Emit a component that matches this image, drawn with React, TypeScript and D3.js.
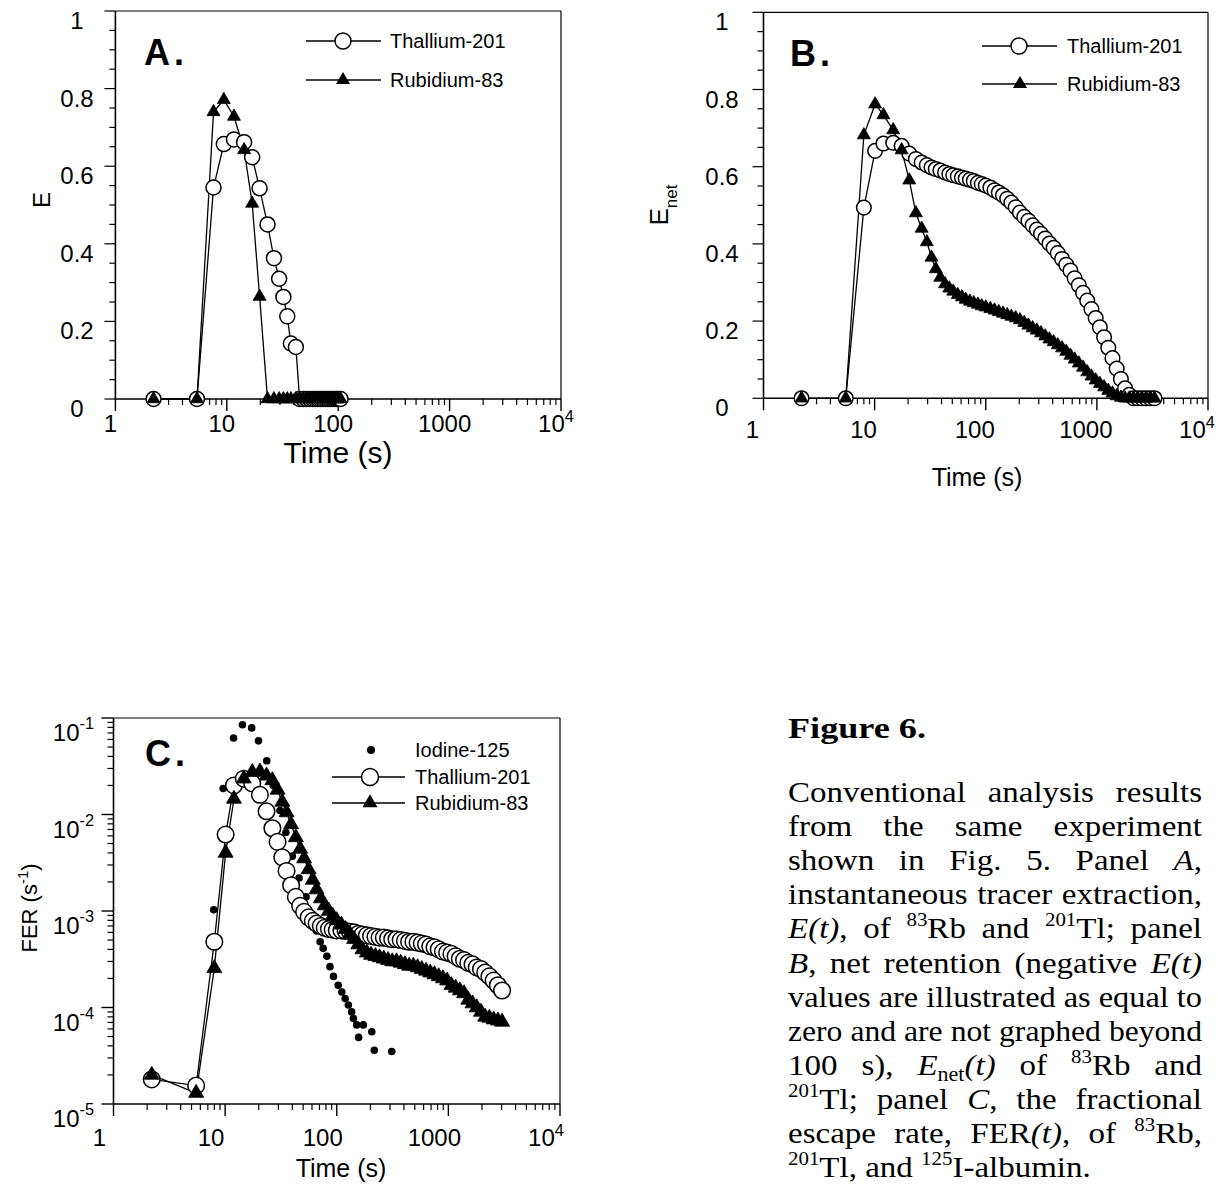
import React, { useMemo } from "react";
import * as d3 from "d3";

const SANS = "'Liberation Sans', Arial, Helvetica, sans-serif";
const SERIF = "'Liberation Serif', 'Times New Roman', serif";

// ---------------- Data ----------------
// Panel A : instantaneous extraction E(t)
const timeA = [2.2, 5.4, 7.6, 9.4, 11.6, 14.3, 16.9, 19.7, 23.2, 26.5, 29.5, 32.2, 34.9, 37.6, 41.7,
  45, 48.5, 52, 55.5, 59, 62.5, 66, 69.5, 73, 77, 81, 85, 89, 93, 97, 101, 105];
const thalliumA = [0, 0, 0.545, 0.657, 0.669, 0.662, 0.623, 0.543, 0.45, 0.363, 0.31, 0.263, 0.213, 0.143, 0.134,
  0, 0, 0, 0, 0, 0, 0, 0, 0, 0, 0, 0, 0, 0, 0, 0, 0];
const rubidiumA = [0, 0, 0.74, 0.771, 0.728, 0.642, 0.504, 0.264, 0, 0, 0, 0, 0, 0, 0,
  0, 0, 0, 0, 0, 0, 0, 0, 0, 0, 0, 0, 0, 0, 0, 0, 0];

// Panel B : net retention Enet(t)
const timeB = [2.2, 5.5, 8.0, 10.1, 12.0, 14.7, 17.5, 20.5, 23.5, 26.5, 29.5, 32.5, 35.5, 39, 43, 47, 51, 56, 61, 66,
  72, 78, 85, 92, 100, 110, 120, 131, 143, 156, 170, 186, 203, 222, 242, 264, 288, 314, 343, 374, 408, 445, 486,
  530, 578, 631, 688, 751, 819, 894, 975, 1064, 1161, 1267, 1382, 1508, 1645, 1795, 1958, 2137, 2331, 2543, 2775,
  3028, 3300];
const thalliumB = [0, 0, 0.494, 0.641, 0.66, 0.662, 0.654, 0.634, 0.62, 0.611, 0.604, 0.598, 0.594, 0.59, 0.585,
  0.581, 0.578, 0.575, 0.572, 0.569, 0.566, 0.563, 0.558, 0.555, 0.551, 0.546, 0.539, 0.533, 0.526, 0.517, 0.507,
  0.495, 0.481, 0.47, 0.46, 0.448, 0.437, 0.426, 0.414, 0.401, 0.39, 0.376, 0.361, 0.346, 0.331, 0.311, 0.293,
  0.273, 0.253, 0.231, 0.208, 0.184, 0.158, 0.131, 0.104, 0.077, 0.05, 0.026, 0.009, 0, 0, 0, 0, 0, 0];
const rubidiumB = [0, 0, 0.682, 0.762, 0.734, 0.695, 0.643, 0.565, 0.48, 0.44, 0.405, 0.365, 0.335, 0.313, 0.296,
  0.285, 0.277, 0.268, 0.262, 0.256, 0.251, 0.247, 0.243, 0.239, 0.236, 0.232, 0.228, 0.224, 0.22, 0.216, 0.212,
  0.208, 0.203, 0.196, 0.189, 0.182, 0.176, 0.169, 0.161, 0.153, 0.146, 0.138, 0.13, 0.121, 0.111, 0.101, 0.091,
  0.08, 0.068, 0.057, 0.047, 0.038, 0.029, 0.02, 0.013, 0.006, 0.002, 0, 0, 0, 0, 0, 0, 0, 0];

// Panel C : fractional escape rate FER(t)
const timeC = [2.2, 5.5, 8.0, 10.1, 12.0, 14.7, 17.5, 20.5, 23.5, 26.5, 29.5, 32.5, 35.5, 39, 43, 47, 51, 56, 61, 66,
  72, 78, 85, 92, 100, 110, 120, 131, 143, 156, 170, 186, 203, 222, 242, 264, 288, 314, 343, 374, 408, 445, 486,
  530, 578, 631, 688, 751, 819, 894, 975, 1064, 1161, 1267, 1382, 1508, 1645, 1795, 1958, 2137, 2331, 2543, 2775,
  3028];
const thalliumC = [1.8e-5, 1.55e-5, 4.8e-4, 6.2e-3, 0.02, 0.0235, 0.021, 0.016, 0.0108, 0.0072, 0.0052, 0.0036,
  0.0026, 0.00185, 0.0014, 0.00113, 0.00098, 0.00086, 0.00079, 0.00074, 0.0007, 0.00067, 0.00065, 0.00064,
  0.00063, 0.00063, 0.00062, 0.00061, 0.0006, 0.00058, 0.00057, 0.00056, 0.00055, 0.00054, 0.00053, 0.00053,
  0.00052, 0.00051, 0.00051, 0.0005, 0.00049, 0.00048, 0.00048, 0.00047, 0.00046, 0.00045, 0.00043, 0.00042,
  0.0004, 0.00038, 0.00037, 0.00036, 0.00034, 0.00032, 0.00031, 0.00029, 0.00028, 0.00026, 0.00025, 0.00023,
  0.00021, 0.00019, 0.00017, 0.00015];
const rubidiumC = [2.0e-5, 1.3e-5, 2.55e-4, 4.0e-3, 0.0145, 0.0235, 0.0275, 0.0278, 0.0252, 0.0226, 0.018, 0.0135,
  0.0105, 0.0079, 0.0058, 0.0044, 0.0035, 0.0027, 0.0021, 0.00167, 0.00135, 0.00114, 0.001, 0.00089, 0.0008,
  0.00072, 0.00065, 0.00058, 0.00051, 0.00045, 0.0004, 0.00037, 0.00035, 0.00034, 0.00033, 0.00032, 0.00031,
  0.0003, 0.0003, 0.00029, 0.00028, 0.00027, 0.00027, 0.00026, 0.00025, 0.00024, 0.00023, 0.00022, 0.00021,
  0.0002, 0.00019, 0.00017, 0.00016, 0.00015, 0.00014, 0.00012, 0.00011, 0.0001, 0.00009, 0.00008, 0.000078,
  0.000075, 0.000073, 0.000071];
const iodineTime = [7.9, 9.6, 11.9, 14.3, 17.3, 19.9, 23.6, 27, 31, 35, 40, 46, 53, 61, 66, 71, 75.5, 81.6, 87,
  93.5, 103, 111, 119, 127, 136, 141, 151, 157, 173, 206, 217, 311];
const iodineC = [0.00103, 0.0186, 0.062, 0.085, 0.079, 0.058, 0.036, 0.02, 0.011, 0.0065, 0.0037, 0.0022, 0.0014,
  0.00085, 0.00062, 0.00048, 0.00041, 0.00034, 0.000265, 0.00021, 0.00017, 0.000145, 0.000124, 0.000106, 0.00009,
  0.000077, 0.000066, 0.000049, 0.000066, 0.000056, 0.000036, 0.000035];

// Ticks / labels
const linTickValues = [0, 0.2, 0.4, 0.6, 0.8, 1];
const linTickLabels = ["0", "0.2", "0.4", "0.6", "0.8", "1"];
const timeTickValues = [1, 10, 100, 1000, 10000];
const timeTickBase = ["1", "10", "100", "1000", "10"];
const timeTickExp = ["", "", "", "", "4"];
const ferTickValues = [1e-5, 1e-4, 1e-3, 1e-2, 1e-1];
const ferTickExp = ["-5", "-4", "-3", "-2", "-1"];
const seriesNames = ["Thallium-201", "Rubidium-83", "Iodine-125"];

type Seg = [string, string];
const captionTitle = "Figure 6.";
const captionWords: Seg[][][] = [
  [[["Conventional", "n"]], [["analysis", "n"]], [["results", "n"]]],
  [[["from", "n"]], [["the", "n"]], [["same", "n"]], [["experiment", "n"]]],
  [[["shown", "n"]], [["in", "n"]], [["Fig.", "n"]], [["5.", "n"]], [["Panel", "n"]], [["A", "i"], [",", "n"]]],
  [[["instantaneous", "n"]], [["tracer", "n"]], [["extraction,", "n"]]],
  [[["E(t)", "i"], [",", "n"]], [["of", "n"]], [["83", "sp"], ["Rb", "n"]], [["and", "n"]], [["201", "sp"], ["Tl;", "n"]], [["panel", "n"]]],
  [[["B", "i"], [",", "n"]], [["net", "n"]], [["retention", "n"]], [["(negative", "n"]], [["E(t)", "i"]]],
  [[["values", "n"]], [["are", "n"]], [["illustrated", "n"]], [["as", "n"]], [["equal", "n"]], [["to", "n"]]],
  [[["zero", "n"]], [["and", "n"]], [["are", "n"]], [["not", "n"]], [["graphed", "n"]], [["beyond", "n"]]],
  [[["100", "n"]], [["s),", "n"]], [["E", "i"], ["net", "sb"], ["(t)", "i"]], [["of", "n"]], [["83", "sp"], ["Rb", "n"]], [["and", "n"]]],
  [[["201", "sp"], ["Tl;", "n"]], [["panel", "n"]], [["C", "i"], [",", "n"]], [["the", "n"]], [["fractional", "n"]]],
  [[["escape", "n"]], [["rate,", "n"]], [["FER", "n"], ["(t)", "i"], [",", "n"]], [["of", "n"]], [["83", "sp"], ["Rb,", "n"]]],
  [[["201", "sp"], ["Tl,", "n"]], [["and", "n"]], [["125", "sp"], ["I-albumin.", "n"]]],
];

// ---------------- helpers ----------------
function tri(cx: number, cy: number, s: number) {
  const h = s * 0.866;
  return `M${cx},${cy - (2 * h) / 3}L${cx + s / 2},${cy + h / 3}L${cx - s / 2},${cy + h / 3}Z`;
}

function frame(x0: number, x1: number, y0: number, y1: number, key: string) {
  return (
    <g key={key} stroke="#000" fill="none">
      <line x1={x0} x2={x1} y1={y1} y2={y1} strokeWidth={1.2} />
      <line x1={x1} x2={x1} y1={y1} y2={y0} strokeWidth={1.2} />
      <line x1={x0} x2={x1} y1={y0} y2={y0} strokeWidth={1.6} />
      <line x1={x0} x2={x0} y1={y1} y2={y0} strokeWidth={1.6} />
    </g>
  );
}

function logXAxis(x: any, y0: number, labelDx: number, labelBase: number, fs: number, key: string) {
  const els: any[] = [];
  for (let d = 0; d < 4; d++) {
    for (let m = 2; m <= 9; m++) {
      const v = m * Math.pow(10, d);
      els.push(<line key={key + "m" + v} x1={x(v)} x2={x(v)} y1={y0} y2={y0 + 6} stroke="#000" strokeWidth={1.2} />);
    }
  }
  timeTickValues.forEach((v, i) => {
    els.push(<line key={key + "M" + v} x1={x(v)} x2={x(v)} y1={y0} y2={y0 + 12} stroke="#000" strokeWidth={1.4} />);
    els.push(
      <text key={key + "L" + v} x={x(v) + labelDx} y={labelBase} textAnchor="middle" fontSize={fs} fontFamily={SANS}>
        {timeTickBase[i]}
        {timeTickExp[i] ? <tspan dy={-10} fontSize={fs * 0.68}>{timeTickExp[i]}</tspan> : null}
      </text>
    );
  });
  return <g key={key}>{els}</g>;
}

function linYAxis(y: any, x0: number, labelCx: number, fs: number, key: string) {
  const els: any[] = [];
  for (let k = 0; k <= 20; k++) {
    const v = k * 0.05;
    const major = k % 4 === 0;
    els.push(<line key={key + "t" + k} x1={x0} x2={x0 - (major ? 11 : 6)} y1={y(v)} y2={y(v)} stroke="#000" strokeWidth={1.2} />);
  }
  linTickValues.forEach((v, i) => {
    els.push(
      <text key={key + "L" + i} x={labelCx} y={y(v) + 18} textAnchor="middle" fontSize={fs} fontFamily={SANS}>
        {linTickLabels[i]}
      </text>
    );
  });
  return <g key={key}>{els}</g>;
}

function logYAxis(y: any, x0: number, labelRight: number, fs: number, key: string) {
  const els: any[] = [];
  for (let d = -5; d < -1; d++) {
    for (let m = 2; m <= 9; m++) {
      const v = m * Math.pow(10, d);
      els.push(<line key={key + "m" + v} x1={x0} x2={x0 - 6} y1={y(v)} y2={y(v)} stroke="#000" strokeWidth={1.2} />);
    }
  }
  ferTickValues.forEach((v, i) => {
    els.push(<line key={key + "M" + i} x1={x0} x2={x0 - 12} y1={y(v)} y2={y(v)} stroke="#000" strokeWidth={1.4} />);
    els.push(
      <text key={key + "L" + i} x={labelRight} y={y(v) + 23} textAnchor="end" fontSize={fs} fontFamily={SANS}>
        10
        <tspan dy={-12} fontSize={fs * 0.68}>{ferTickExp[i]}</tspan>
      </text>
    );
  });
  return <g key={key}>{els}</g>;
}

function seriesLine(xs: number[], ys: number[], x: any, y: any, key: string) {
  const pts: [number, number][] = xs.map((t, i) => [x(t), y(ys[i])]);
  const gen = d3.line<[number, number]>().x((d) => d[0]).y((d) => d[1]);
  return <path key={key} d={gen(pts) || ""} fill="none" stroke="#000" strokeWidth={1.3} />;
}

function circles(xs: number[], ys: number[], x: any, y: any, r: number, key: string) {
  return (
    <g key={key}>
      {xs.map((t, i) => (
        <circle key={i} cx={x(t)} cy={y(ys[i])} r={r} fill="#fff" stroke="#000" strokeWidth={1.5} />
      ))}
    </g>
  );
}

function triangles(xs: number[], ys: number[], x: any, y: any, s: number, key: string) {
  return (
    <g key={key}>
      {xs.map((t, i) => (
        <path key={i} d={tri(x(t), y(ys[i]), s)} fill="#000" stroke="#000" strokeWidth={0.8} />
      ))}
    </g>
  );
}

// ---------------- caption layout ----------------
const STRETCH = 1.1;
function useCaption() {
  return useMemo(() => {
    const canvas = document.createElement("canvas");
    const ctx = canvas.getContext("2d") as CanvasRenderingContext2D;
    const size = 30;
    const fontOf = (st: string) =>
      st === "i" ? `italic ${size}px 'Liberation Serif'` : st === "sp" ? `19px 'Liberation Serif'` : st === "sb" ? `20px 'Liberation Serif'` : `${size}px 'Liberation Serif'`;
    const meas = (t: string, st: string) => {
      ctx.font = fontOf(st);
      return ctx.measureText(t).width * STRETCH;
    };
    const left = 788;
    const right = 1202;
    const base0 = 802;
    const lead = 34.1;
    const minGap = 8;
    const out: any[] = [];
    captionWords.forEach((words, li) => {
      let widths = words.map((w) => w.reduce((s, seg) => s + meas(seg[0], seg[1]), 0));
      let total = widths.reduce((a, b) => a + b, 0);
      const last = li === captionWords.length - 1;
      const avail = right - left - minGap * (words.length - 1);
      let f = 1;
      if (!last && total > avail) {
        f = avail / total;
        widths = widths.map((w) => w * f);
        total = avail;
      }
      const gap = last ? meas(" ", "n") : (right - left - total) / (words.length - 1);
      let cx = left;
      const base = base0 + li * lead;
      words.forEach((w, wi) => {
        let sx = cx;
        w.forEach((seg, si) => {
          const st = seg[1];
          const yy = st === "sp" ? base - 12 : st === "sb" ? base + 6 : base;
          const wd = meas(seg[0], st) * f;
          out.push({ key: `${li}-${wi}-${si}`, x: sx, y: yy, t: seg[0], st, w: wd });
          sx += wd;
        });
        cx += widths[wi] + gap;
      });
    });
    return out;
  }, []);
}

export default function App() {
  // Panel A scales
  const xA = d3.scaleLog().domain([1, 1e4]).range([115.4, 561]);
  const yA = d3.scaleLinear().domain([0, 1]).range([399, 11]);
  // Panel B scales
  const xB = d3.scaleLog().domain([1, 1e4]).range([763.5, 1208]);
  const yB = d3.scaleLinear().domain([0, 1]).range([398.3, 12.3]);
  // Panel C scales
  const xC = d3.scaleLog().domain([1, 1e4]).range([113.5, 560]);
  const yC = d3.scaleLog().domain([1e-5, 1e-1]).range([1104, 718]);

  const caption = useCaption();

  return (
    <svg
      width={1218}
      height={1184}
      viewBox="0 0 1218 1184"
      style={{ position: "absolute", left: 0, top: 0, background: "#fff" }}
      fontFamily={SANS}
    >
      <rect x={0} y={0} width={1218} height={1184} fill="#fff" />

      {/* ---------- Panel A ---------- */}
      {frame(xA(1), xA(1e4), yA(0), yA(1), "fa")}
      {linYAxis(yA, xA(1), 77, 24, "ya")}
      {logXAxis(xA, yA(0), -5, 432, 24, "xa")}
      <text x={338} y={463} textAnchor="middle" fontSize={30} fontFamily={SANS}>Time (s)</text>
      <text transform="translate(50,200) rotate(-90)" textAnchor="middle" fontSize={24} fontFamily={SANS}>E</text>
      <text x={144} y={65} fontSize={36} fontWeight="bold" fontFamily={SANS} letterSpacing={4}>A.</text>
      {seriesLine(timeA, thalliumA, xA, yA, "la1")}
      {seriesLine(timeA, rubidiumA, xA, yA, "la2")}
      {circles(timeA, thalliumA, xA, yA, 7.5, "ca")}
      {triangles(timeA, rubidiumA, xA, yA, 13, "ta")}
      <g>
        <line x1={306} x2={381} y1={41} y2={41} stroke="#000" strokeWidth={1.3} />
        <circle cx={343} cy={41} r={8} fill="#fff" stroke="#000" strokeWidth={1.5} />
        <text x={390} y={48} fontSize={20} fontFamily={SANS}>{seriesNames[0]}</text>
        <line x1={306} x2={381} y1={80} y2={80} stroke="#000" strokeWidth={1.3} />
        <path d={tri(343, 80, 14)} fill="#000" />
        <text x={390} y={87} fontSize={20} fontFamily={SANS}>{seriesNames[1]}</text>
      </g>

      {/* ---------- Panel B ---------- */}
      {frame(xB(1), xB(1e4), yB(0), yB(1), "fb")}
      {linYAxis(yB, xB(1), 722, 24, "yb")}
      {logXAxis(xB, yB(0), -11, 438, 24, "xb")}
      <text x={977} y={486} textAnchor="middle" fontSize={25} fontFamily={SANS}>Time (s)</text>
      <text transform="translate(668,205) rotate(-90)" textAnchor="middle" fontSize={26} fontFamily={SANS}>
        E<tspan dy={9} fontSize={17}>net</tspan>
      </text>
      <text x={790} y={66} fontSize={36} fontWeight="bold" fontFamily={SANS} letterSpacing={4}>B.</text>
      {seriesLine(timeB, thalliumB, xB, yB, "lb1")}
      {seriesLine(timeB, rubidiumB, xB, yB, "lb2")}
      {circles(timeB, thalliumB, xB, yB, 7.3, "cb")}
      {triangles(timeB, rubidiumB, xB, yB, 13, "tb")}
      <g>
        <line x1={982} x2={1057} y1={46} y2={46} stroke="#000" strokeWidth={1.3} />
        <circle cx={1019} cy={46} r={8} fill="#fff" stroke="#000" strokeWidth={1.5} />
        <text x={1067} y={53} fontSize={20} fontFamily={SANS}>{seriesNames[0]}</text>
        <line x1={982} x2={1057} y1={84} y2={84} stroke="#000" strokeWidth={1.3} />
        <path d={tri(1020, 84, 14)} fill="#000" />
        <text x={1067} y={91} fontSize={20} fontFamily={SANS}>{seriesNames[1]}</text>
      </g>

      {/* ---------- Panel C ---------- */}
      {frame(xC(1), xC(1e4), yC(1e-5), yC(1e-1), "fc")}
      {logYAxis(yC, xC(1), 94, 24, "yc")}
      {logXAxis(xC, yC(1e-5), -14, 1146, 24, "xc")}
      <text x={341} y={1177} textAnchor="middle" fontSize={25} fontFamily={SANS}>Time (s)</text>
      <text transform="translate(37,908) rotate(-90)" textAnchor="middle" fontSize={22} fontFamily={SANS}>
        FER (s<tspan dy={-9} fontSize={15}>-1</tspan><tspan dy={9}>)</tspan>
      </text>
      <text x={145} y={766} fontSize={36} fontWeight="bold" fontFamily={SANS} letterSpacing={4}>C.</text>
      <g>
        {iodineTime.map((t, i) => (
          <circle key={"io" + i} cx={xC(t)} cy={yC(iodineC[i])} r={3.8} fill="#000" />
        ))}
      </g>
      {seriesLine(timeC, thalliumC, xC, yC, "lc1")}
      {seriesLine(timeC, rubidiumC, xC, yC, "lc2")}
      {circles(timeC, thalliumC, xC, yC, 8.3, "cc")}
      {triangles(timeC, rubidiumC, xC, yC, 15, "tc")}
      <g>
        <circle cx={371} cy={750} r={4} fill="#000" />
        <text x={415} y={757} fontSize={20} fontFamily={SANS}>{seriesNames[2]}</text>
        <line x1={332} x2={405} y1={777} y2={777} stroke="#000" strokeWidth={1.3} />
        <circle cx={370} cy={777} r={8.5} fill="#fff" stroke="#000" strokeWidth={1.5} />
        <text x={415} y={784} fontSize={20} fontFamily={SANS}>{seriesNames[0]}</text>
        <line x1={332} x2={405} y1={803} y2={803} stroke="#000" strokeWidth={1.3} />
        <path d={tri(370, 803, 15)} fill="#000" />
        <text x={415} y={810} fontSize={20} fontFamily={SANS}>{seriesNames[1]}</text>
      </g>

      {/* ---------- Caption ---------- */}
      <text x={788} y={738} fontSize={30} fontWeight="bold" fontFamily={SERIF} textLength={138} lengthAdjust="spacingAndGlyphs">
        {captionTitle}
      </text>
      <g fontFamily={SERIF}>
        {caption.map((c: any) => (
          <text
            key={c.key}
            x={c.x}
            y={c.y}
            fontSize={c.st === "sp" ? 19 : c.st === "sb" ? 20 : 30}
            fontStyle={c.st === "i" ? "italic" : "normal"}
            textLength={c.w}
            lengthAdjust="spacingAndGlyphs"
          >
            {c.t}
          </text>
        ))}
      </g>
    </svg>
  );
}
